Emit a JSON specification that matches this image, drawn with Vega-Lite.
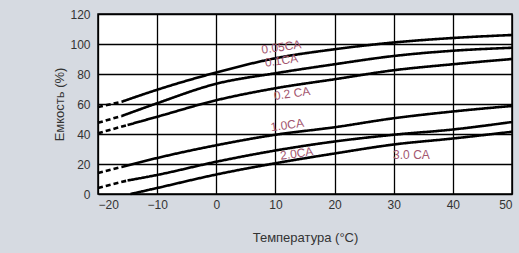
{
  "$schema": "https://vega.github.io/schema/vega-lite/v6.json",
  "width": 414,
  "height": 180,
  "autosize": {"type": "none"},
  "padding": {"left": 98, "top": 14, "right": 7, "bottom": 59},
  "background": "#d6dae1",
  "view": {"fill": "white", "stroke": "black", "strokeWidth": 1.5},
  "config": {"font": "Liberation Sans"},
  "datasets": {
    "curves": [
      {"series": "0.05CA", "seg": "dash", "t": -20, "c": 58},
      {"series": "0.05CA", "seg": "dash", "t": -16, "c": 61.5},
      {"series": "0.05CA", "seg": "solid", "t": -16, "c": 61.5},
      {"series": "0.05CA", "seg": "solid", "t": -10, "c": 69.5},
      {"series": "0.05CA", "seg": "solid", "t": 0, "c": 81},
      {"series": "0.05CA", "seg": "solid", "t": 10, "c": 90.5},
      {"series": "0.05CA", "seg": "solid", "t": 20, "c": 96.5},
      {"series": "0.05CA", "seg": "solid", "t": 30, "c": 101},
      {"series": "0.05CA", "seg": "solid", "t": 40, "c": 104},
      {"series": "0.05CA", "seg": "solid", "t": 50, "c": 106},
      {"series": "0.1CA", "seg": "dash", "t": -20, "c": 47.5},
      {"series": "0.1CA", "seg": "dash", "t": -16, "c": 52},
      {"series": "0.1CA", "seg": "solid", "t": -16, "c": 52},
      {"series": "0.1CA", "seg": "solid", "t": -10, "c": 60.5},
      {"series": "0.1CA", "seg": "solid", "t": 0, "c": 73.5},
      {"series": "0.1CA", "seg": "solid", "t": 10, "c": 80.5},
      {"series": "0.1CA", "seg": "solid", "t": 20, "c": 86.5},
      {"series": "0.1CA", "seg": "solid", "t": 30, "c": 92},
      {"series": "0.1CA", "seg": "solid", "t": 40, "c": 95.5},
      {"series": "0.1CA", "seg": "solid", "t": 50, "c": 97.5},
      {"series": "0.2CA", "seg": "dash", "t": -20, "c": 40.5},
      {"series": "0.2CA", "seg": "dash", "t": -15, "c": 46},
      {"series": "0.2CA", "seg": "solid", "t": -15, "c": 46},
      {"series": "0.2CA", "seg": "solid", "t": -10, "c": 51.5},
      {"series": "0.2CA", "seg": "solid", "t": 0, "c": 62.5},
      {"series": "0.2CA", "seg": "solid", "t": 10, "c": 70.5},
      {"series": "0.2CA", "seg": "solid", "t": 20, "c": 76.5},
      {"series": "0.2CA", "seg": "solid", "t": 30, "c": 82.5},
      {"series": "0.2CA", "seg": "solid", "t": 40, "c": 86.5},
      {"series": "0.2CA", "seg": "solid", "t": 50, "c": 90},
      {"series": "1.0CA", "seg": "dash", "t": -20, "c": 14},
      {"series": "1.0CA", "seg": "dash", "t": -16, "c": 18},
      {"series": "1.0CA", "seg": "solid", "t": -16, "c": 18},
      {"series": "1.0CA", "seg": "solid", "t": -10, "c": 24},
      {"series": "1.0CA", "seg": "solid", "t": 0, "c": 32.5},
      {"series": "1.0CA", "seg": "solid", "t": 10, "c": 39.5},
      {"series": "1.0CA", "seg": "solid", "t": 20, "c": 44.5},
      {"series": "1.0CA", "seg": "solid", "t": 30, "c": 50.5},
      {"series": "1.0CA", "seg": "solid", "t": 40, "c": 55},
      {"series": "1.0CA", "seg": "solid", "t": 50, "c": 58.7},
      {"series": "2.0CA", "seg": "dash", "t": -20, "c": 4},
      {"series": "2.0CA", "seg": "dash", "t": -15, "c": 9},
      {"series": "2.0CA", "seg": "solid", "t": -15, "c": 9},
      {"series": "2.0CA", "seg": "solid", "t": -10, "c": 12.7},
      {"series": "2.0CA", "seg": "solid", "t": 0, "c": 21.5},
      {"series": "2.0CA", "seg": "solid", "t": 10, "c": 29},
      {"series": "2.0CA", "seg": "solid", "t": 20, "c": 35},
      {"series": "2.0CA", "seg": "solid", "t": 30, "c": 39.5},
      {"series": "2.0CA", "seg": "solid", "t": 40, "c": 43},
      {"series": "2.0CA", "seg": "solid", "t": 50, "c": 48},
      {"series": "3.0CA", "seg": "solid", "t": -14.5, "c": 0},
      {"series": "3.0CA", "seg": "solid", "t": -10, "c": 4},
      {"series": "3.0CA", "seg": "solid", "t": 0, "c": 13},
      {"series": "3.0CA", "seg": "solid", "t": 10, "c": 20.5},
      {"series": "3.0CA", "seg": "solid", "t": 20, "c": 27},
      {"series": "3.0CA", "seg": "solid", "t": 30, "c": 33},
      {"series": "3.0CA", "seg": "solid", "t": 40, "c": 37},
      {"series": "3.0CA", "seg": "solid", "t": 50, "c": 41.5}
    ],
    "labels": [
      {"label": "0.05CA", "t": 11, "c": 98, "tilt": "yes"},
      {"label": "0.1CA", "t": 11, "c": 89, "tilt": "yes"},
      {"label": "0.2 CA", "t": 12.8, "c": 67, "tilt": "yes"},
      {"label": "1.0CA", "t": 12, "c": 46, "tilt": "yes"},
      {"label": "2.0CA", "t": 13.6, "c": 27, "tilt": "yes"},
      {"label": "3.0 CA", "t": 33, "c": 26, "tilt": "no"}
    ]
  },
  "encoding": {
    "x": {
      "field": "t",
      "type": "quantitative",
      "scale": {"domain": [-20, 50], "nice": false, "zero": false},
      "axis": {
        "values": [-20, -10, 0, 10, 20, 30, 40, 50],
        "grid": true,
        "gridColor": "black",
        "gridOpacity": 1,
        "gridWidth": 1.3,
        "ticks": false,
        "domain": false,
        "labelFontSize": 12,
        "labelColor": "#333333",
        "labelPadding": 5,
        "title": "Температура (°C)",
        "titleFontSize": 13,
        "titleFontWeight": "normal",
        "titleColor": "#333333",
        "titlePadding": 21
      }
    },
    "y": {
      "field": "c",
      "type": "quantitative",
      "scale": {"domain": [0, 120], "nice": false},
      "axis": {
        "values": [0, 20, 40, 60, 80, 100, 120],
        "grid": true,
        "gridColor": "black",
        "gridOpacity": 1,
        "gridWidth": 1.3,
        "ticks": false,
        "domain": false,
        "labelFontSize": 12,
        "labelColor": "#333333",
        "labelPadding": 8,
        "title": "Емкость (%)",
        "titleFontSize": 13,
        "titleFontWeight": "normal",
        "titleColor": "#333333",
        "titlePadding": 3
      }
    }
  },
  "layer": [
    {
      "data": {"name": "curves"},
      "mark": {"type": "line", "interpolate": "monotone", "strokeWidth": 2.6, "color": "black"},
      "encoding": {
        "detail": {"field": "series"},
        "strokeDash": {
          "field": "seg",
          "type": "nominal",
          "scale": {"domain": ["dash", "solid"], "range": [[5, 3], [1, 0]]},
          "legend": null
        }
      }
    },
    {
      "data": {"name": "labels"},
      "transform": [{"filter": "datum.tilt == 'yes'"}],
      "mark": {"type": "text", "fontSize": 12, "color": "#a3566f", "angle": 352},
      "encoding": {"text": {"field": "label"}}
    },
    {
      "data": {"name": "labels"},
      "transform": [{"filter": "datum.tilt == 'no'"}],
      "mark": {"type": "text", "fontSize": 12, "color": "#a3566f", "angle": 0},
      "encoding": {"text": {"field": "label"}}
    }
  ]
}
